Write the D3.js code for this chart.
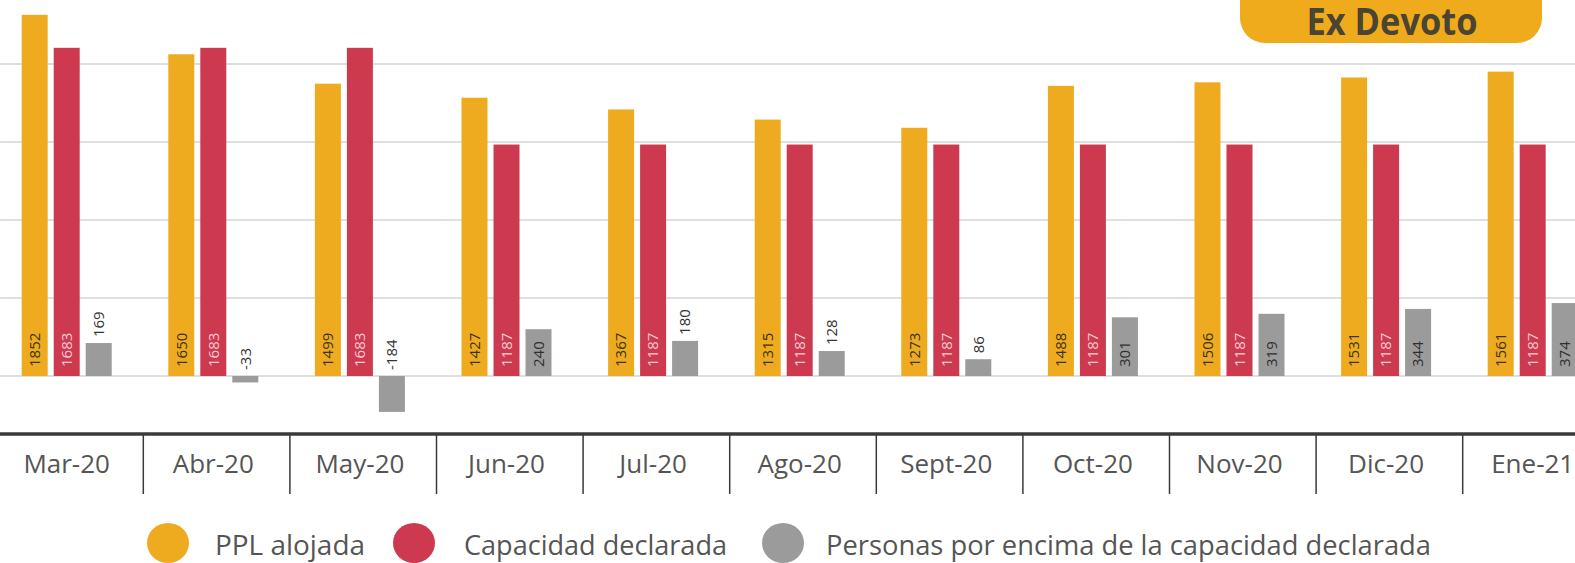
<!DOCTYPE html>
<html>
<head>
<meta charset="utf-8">
<script src="https://cdn.jsdelivr.net/npm/d3@7"></script>
<style>
  body { margin: 0; background: #fff; }
  svg { display: block; font-family: "Open Sans", sans-serif; }
</style>
</head>
<body>
<svg></svg>
<script>
// data
var months = ["Mar-20", "Abr-20", "May-20", "Jun-20", "Jul-20", "Ago-20", "Sept-20", "Oct-20", "Nov-20", "Dic-20", "Ene-21"]
var alojada = [1852, 1650, 1499, 1427, 1367, 1315, 1273, 1488, 1506, 1531, 1561]
var capacidad = [1683, 1683, 1683, 1187, 1187, 1187, 1187, 1187, 1187, 1187, 1187]
var encima = [169, -33, -184, 240, 180, 128, 86, 301, 319, 344, 374]
var gridTicks = [0, 400, 800, 1200, 1600]
var seriesNames = ["PPL alojada", "Capacidad declarada", "Personas por encima de la capacidad declarada"]
var colors = ["#efab20", "#cd3a50", "#9b9b9b"]
var labelColors = ["#3d3410", "#f6c9cf", "#2f2f2f"]

var width = 1575
var height = 563
var svg = d3.select("svg")
  .attr("width", width)
  .attr("height", height)
  .attr("viewBox", "0 0 " + width + " " + height)

var series = [alojada, capacidad, encima]

// scales
var x0 = d3.scaleBand()
  .domain(months)
  .range([-3.3, 1609.3])
  .padding(0)

var x1 = d3.scaleBand()
  .domain(d3.range(3))
  .range([25, 115])
  .paddingInner(0.1875)

var y = d3.scaleLinear()
  .domain([0, 1600])
  .range([376, 64])

// gridlines
svg.append("g")
  .selectAll("line")
  .data(gridTicks)
  .enter()
  .append("line")
  .attr("x1", 0)
  .attr("x2", width)
  .attr("y1", d => y(d))
  .attr("y2", d => y(d))
  .style("stroke", "#d4d4d4")
  .style("stroke-width", 1.5)

// bars
var groups = svg.append("g")
  .selectAll("g")
  .data(months)
  .enter()
  .append("g")
  .attr("transform", d => "translate(" + x0(d) + ",0)")

groups.selectAll("rect")
  .data((m, i) => series.map((s, k) => ({ k: k, v: s[i] })))
  .enter()
  .append("rect")
  .attr("x", d => x1(d.k))
  .attr("width", x1.bandwidth())
  .attr("y", d => y(Math.max(0, d.v)))
  .attr("height", d => Math.abs(y(d.v) - y(0)))
  .attr("fill", d => colors[d.k])

// value labels, rotated
groups.selectAll("text")
  .data((m, i) => series.map((s, k) => ({ k: k, v: s[i] })))
  .enter()
  .append("text")
  .attr("transform", d => {
    var cx = x1(d.k) + x1.bandwidth() / 2
    var start
    if (d.v < 0) start = y(0) - 6
    else if (y(0) - y(d.v) > 44) start = y(0) - 9
    else start = y(d.v) - 6
    return "translate(" + cx + "," + start + ") rotate(-90)"
  })
  .attr("dy", "0.35em")
  .style("font-size", "15px")
  .attr("fill", d => {
    if (d.k == 2 && (d.v < 0 || y(0) - y(d.v) <= 44)) return "#333"
    return labelColors[d.k]
  })
  .text(d => d.v)

// axis line and dividers
svg.append("line")
  .attr("x1", 0)
  .attr("x2", width)
  .attr("y1", 434)
  .attr("y2", 434)
  .style("stroke", "#3a3a3a")
  .style("stroke-width", 3.5)

svg.append("g")
  .selectAll("line")
  .data(months.slice(1))
  .enter()
  .append("line")
  .attr("x1", d => x0(d))
  .attr("x2", d => x0(d))
  .attr("y1", 434)
  .attr("y2", 494)
  .style("stroke", "#3a3a3a")
  .style("stroke-width", 1.5)

svg.append("g")
  .selectAll("text")
  .data(months)
  .enter()
  .append("text")
  .attr("x", d => x0(d) + 70)
  .attr("y", 473)
  .attr("text-anchor", "middle")
  .style("font-size", "26px")
  .attr("fill", "#555")
  .text(d => d)

// title badge
svg.append("path")
  .attr("d", "M1240,-10 H1542 V18 A25,25 0 0 1 1517,43 H1265 A25,25 0 0 1 1240,18 Z")
  .attr("fill", "#f0ab1d")

svg.append("text")
  .attr("x", 1392)
  .attr("y", 35)
  .attr("text-anchor", "middle")
  .attr("textLength", 171)
  .attr("lengthAdjust", "spacingAndGlyphs")
  .style("font-size", "37px")
  .style("font-weight", "bold")
  .attr("fill", "#4a4433")
  .text("Ex Devoto")

// legend
var legendX = [168, 414, 783]
var textX = [215, 464, 826]
var textW = [150, 263, 605]

var legend = svg.append("g")
  .selectAll("g")
  .data(seriesNames)
  .enter()
  .append("g")

legend.append("ellipse")
  .attr("cx", (d, i) => legendX[i])
  .attr("cy", 543)
  .attr("rx", 21)
  .attr("ry", 20)
  .attr("fill", (d, i) => colors[i])

legend.append("text")
  .attr("x", (d, i) => textX[i])
  .attr("y", 555)
  .attr("textLength", (d, i) => textW[i])
  .attr("lengthAdjust", "spacingAndGlyphs")
  .style("font-size", "28px")
  .attr("fill", "#555")
  .text(d => d)
</script>
</body>
</html>
